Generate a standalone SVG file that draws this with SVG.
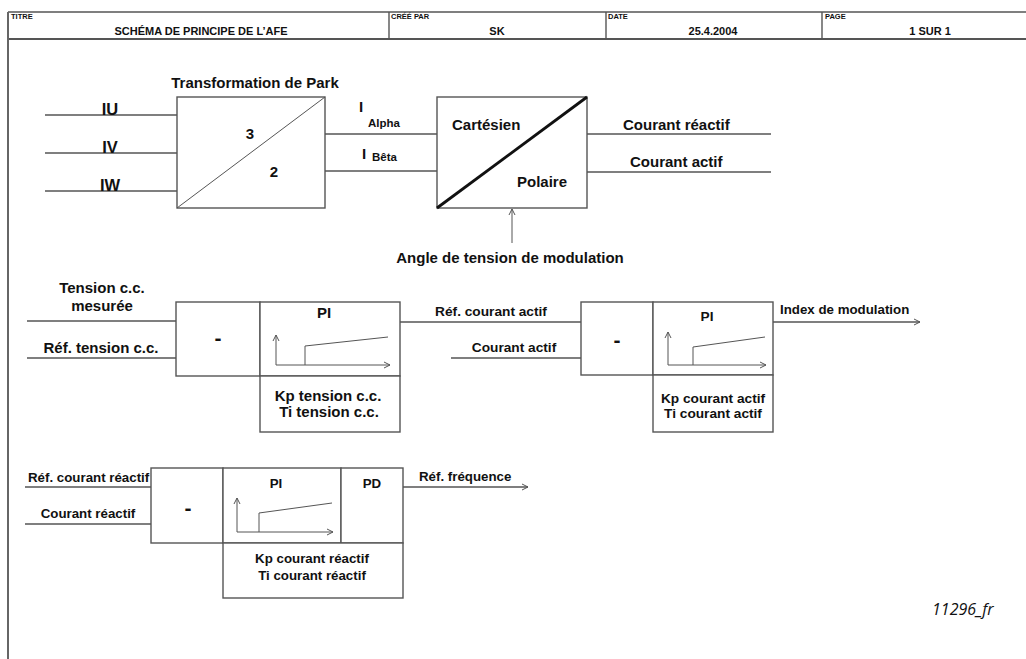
<svg xmlns="http://www.w3.org/2000/svg" width="1026" height="659" viewBox="0 0 1026 659">
<style>
.ln{stroke:#555;stroke-width:1.4;fill:none}
.thin{stroke:#555;stroke-width:1;fill:none}
.bx{stroke:#555;stroke-width:1.4;fill:#fff}
.t{font-family:"Liberation Sans",Arial,sans-serif;font-weight:bold;fill:#111}
.hs{font-size:7.5px}
.hb{font-size:11px}
.f17{font-size:16.5px}
.f15{font-size:15px}
.f14{font-size:13.7px}
.f13{font-size:13.3px}
.f12{font-size:11.5px}
.dash{font-size:21px}
.m{text-anchor:middle}
</style>
<defs>
<marker id="oa" markerWidth="8" markerHeight="8" refX="7" refY="4" orient="auto" markerUnits="userSpaceOnUse">
<path d="M1,1 L7,4 L1,7" fill="none" stroke="#555" stroke-width="1"/>
</marker>
</defs>
<rect width="1026" height="659" fill="#fff"/>

<g id="header">
<line style="stroke:#555;stroke-width:1.6" x1="8" y1="12" x2="1026" y2="12"/>
<line style="stroke:#555;stroke-width:1.8" x1="8" y1="39" x2="1026" y2="39"/>
<line style="stroke:#666;stroke-width:2" x1="8" y1="12" x2="8" y2="659"/>
<line class="ln" x1="389" y1="12" x2="389" y2="39"/>
<line class="ln" x1="606" y1="12" x2="606" y2="39"/>
<line class="ln" x1="822" y1="12" x2="822" y2="39"/>
<text class="t hs" x="11" y="19">TITRE</text>
<text class="t hb m" x="201" y="35">SCHÉMA DE PRINCIPE DE L’AFE</text>
<text class="t hs" x="391" y="19">CRÉÉ PAR</text>
<text class="t hb m" x="497" y="35">SK</text>
<text class="t hs" x="608" y="19">DATE</text>
<text class="t hb m" x="713" y="35">25.4.2004</text>
<text class="t hs" x="825" y="19">PAGE</text>
<text class="t hb m" x="930" y="35">1 SUR 1</text>
</g>

<g id="connectors">
<line class="ln" x1="45" y1="115" x2="177" y2="115"/>
<line class="ln" x1="45" y1="153" x2="177" y2="153"/>
<line class="ln" x1="45" y1="191" x2="177" y2="191"/>
<line class="ln" x1="325" y1="134" x2="437" y2="134"/>
<line class="ln" x1="325" y1="171" x2="437" y2="171"/>
<line class="ln" x1="587" y1="134" x2="771" y2="134"/>
<line class="ln" x1="587" y1="172" x2="771" y2="172"/>
<line class="thin" x1="512" y1="243" x2="512" y2="209" marker-end="url(#oa)"/>
<line class="ln" x1="27" y1="321" x2="176" y2="321"/>
<line class="ln" x1="27" y1="358" x2="176" y2="358"/>
<line class="ln" x1="400" y1="322" x2="581" y2="322"/>
<line class="ln" x1="451" y1="358" x2="581" y2="358"/>
<line class="ln" x1="773" y1="322" x2="920" y2="322" marker-end="url(#oa)"/>
<line class="ln" x1="25" y1="487" x2="151" y2="487"/>
<line class="ln" x1="25" y1="524" x2="151" y2="524"/>
<line class="ln" x1="403" y1="487" x2="528" y2="487" marker-end="url(#oa)"/>
</g>

<g id="labels">
<text class="t f17 m" x="110" y="115">IU</text>
<text class="t f17 m" x="110" y="153">IV</text>
<text class="t f17 m" x="110" y="191">IW</text>
<text class="t f15" x="359" y="112">I</text>
<text class="t f12" x="368" y="127">Alpha</text>
<text class="t f15" x="362" y="159">I</text>
<text class="t f12" x="372" y="161">Bêta</text>
<text class="t f15" x="623" y="130">Courant réactif</text>
<text class="t f15" x="630" y="167">Courant actif</text>
<text class="t f15 m" x="510" y="263">Angle de tension de modulation</text>
<text class="t f15 m" x="102" y="293">Tension c.c.</text>
<text class="t f15 m" x="102" y="311">mesurée</text>
<text class="t f15 m" x="101" y="353">Réf. tension c.c.</text>
<text class="t f14 m" x="491" y="316">Réf. courant actif</text>
<text class="t f14 m" x="514" y="352">Courant actif</text>
<text class="t f13" x="780" y="314">Index de modulation</text>
<text class="t f13" x="28" y="482">Réf. courant réactif</text>
<text class="t f13 m" x="88" y="518">Courant réactif</text>
<text class="t f13" x="419" y="481">Réf. fréquence</text>
</g>

<g id="park">
<text class="t f15 m" x="255" y="88">Transformation de Park</text>
<rect class="bx" x="177" y="97" width="148" height="111"/>
<line class="thin" x1="177" y1="208" x2="325" y2="97"/>
<text class="t f15 m" x="250" y="139">3</text>
<text class="t f15 m" x="274" y="177">2</text>
</g>

<g id="cartpol">
<rect class="bx" x="437" y="97" width="150" height="111"/>
<line style="stroke:#111;stroke-width:2.8" x1="437" y1="208" x2="587" y2="97"/>
<text class="t f15" x="452" y="130">Cartésien</text>
<text class="t f15" x="517" y="187">Polaire</text>
</g>

<g id="pi-tension">
<rect class="bx" x="176" y="302" width="84" height="74"/>
<text class="t dash m" x="218" y="345">-</text>
<rect class="bx" x="260" y="302" width="140" height="74"/>
<text class="t f15 m" x="324" y="318">PI</text>
<line class="thin" x1="276" y1="365" x2="276" y2="335" marker-end="url(#oa)"/>
<line class="thin" x1="276" y1="365" x2="390" y2="365" marker-end="url(#oa)"/>
<polyline class="thin" points="305,365 305,346 388,337"/>
<rect class="bx" x="260" y="376" width="140" height="56"/>
<text class="t f15 m" x="328" y="401">Kp tension c.c.</text>
<text class="t f15 m" x="329" y="417">Ti tension c.c.</text>
</g>

<g id="pi-courant-actif">
<rect class="bx" x="581" y="302" width="72" height="73"/>
<text class="t dash m" x="617" y="347">-</text>
<rect class="bx" x="653" y="302" width="120" height="73"/>
<text class="t f14 m" x="707" y="321">PI</text>
<line class="thin" x1="668" y1="365" x2="668" y2="332" marker-end="url(#oa)"/>
<line class="thin" x1="668" y1="365" x2="766" y2="365" marker-end="url(#oa)"/>
<polyline class="thin" points="693,365 693,347 765,337"/>
<rect class="bx" x="653" y="375" width="120" height="57"/>
<text class="t f14 m" x="713" y="403">Kp courant actif</text>
<text class="t f14 m" x="713" y="418">Ti courant actif</text>
</g>

<g id="pi-courant-reactif">
<rect class="bx" x="151" y="468" width="72" height="75"/>
<text class="t dash m" x="188" y="515">-</text>
<rect class="bx" x="223" y="468" width="118" height="75"/>
<text class="t f13 m" x="276" y="488">PI</text>
<line class="thin" x1="237" y1="532" x2="237" y2="498" marker-end="url(#oa)"/>
<line class="thin" x1="237" y1="532" x2="333" y2="532" marker-end="url(#oa)"/>
<polyline class="thin" points="259,532 259,513 332,503"/>
<rect class="bx" x="341" y="468" width="62" height="75"/>
<text class="t f13 m" x="372" y="488">PD</text>
<rect class="bx" x="223" y="543" width="180" height="55"/>
<text class="t f13 m" x="312" y="563">Kp courant réactif</text>
<text class="t f13 m" x="312" y="580">Ti courant réactif</text>
</g>

<text x="932" y="615" font-family="'Open Sans','DejaVu Sans',sans-serif" font-style="italic" font-size="16" fill="#111">11296_fr</text>
</svg>
